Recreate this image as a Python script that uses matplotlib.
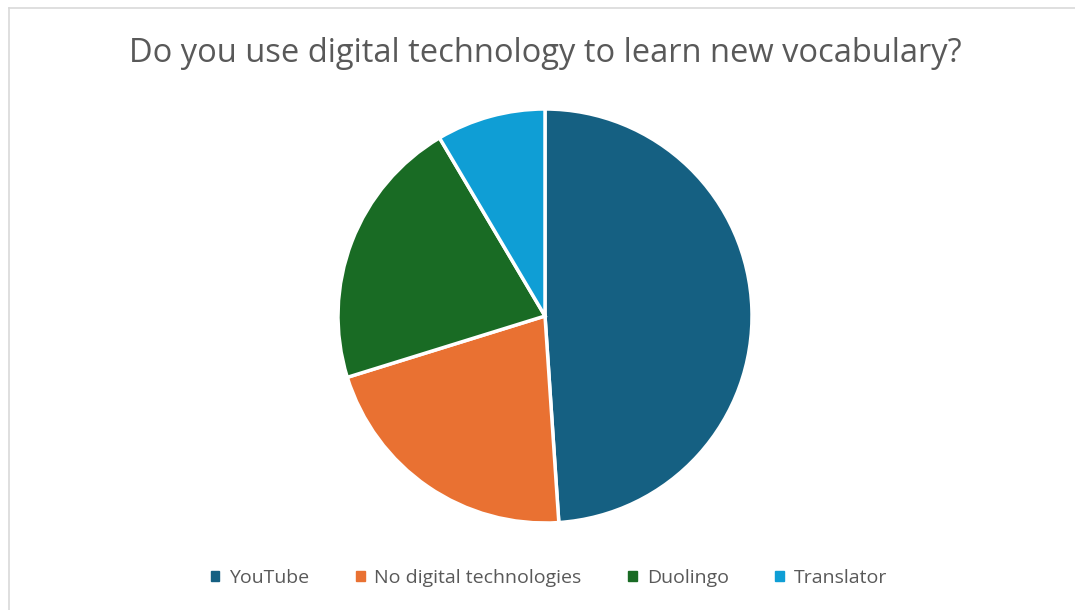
import matplotlib.pyplot as plt
from matplotlib.lines import Line2D

# survey answers (counts)
labels = ['YouTube', 'No digital technologies', 'Duolingo', 'Translator']
counts = [23, 10, 10, 4]
colors = ['#156082', '#E97132', '#196B24', '#0F9ED5']

plt.rcParams['font.family'] = ['Open Sans', 'DejaVu Sans']

fig = plt.figure(figsize=(10.75, 6.1), dpi=100)

# light grey chart frame: only top and left edges are inside the image
fx, fy = 9 / 1075, 1 - 8 / 610
fig.lines.append(Line2D([fx, 1], [fy, fy], transform=fig.transFigure, color='#D9D9D9', lw=1.2))
fig.lines.append(Line2D([fx, fx], [0, fy], transform=fig.transFigure, color='#D9D9D9', lw=1.2))

# pie: centre (545, 316), radius 207 px
r = 207
ax = fig.add_axes([(545 - r) / 1075, (610 - 316 - r) / 610, 2 * r / 1075, 2 * r / 610])
ax.pie(counts, colors=colors, startangle=90, counterclock=False,
       wedgeprops=dict(edgecolor='white', linewidth=2.5))
ax.set_xlim(-1, 1)
ax.set_ylim(-1, 1)
ax.set_aspect('auto')

fig.text(545 / 1075, 1 - 53 / 610, 'Do you use digital technology to learn new vocabulary?',
         ha='center', va='center', fontsize=23.5, color='#595959')

handles = [plt.Rectangle((0, 0), 1, 1, color=c) for c in colors]
fig.legend(handles, labels, loc='center', bbox_to_anchor=(549 / 1075, 1 - 578 / 610),
           ncol=4, frameon=False, fontsize=14, labelcolor='#595959',
           handlelength=0.45, handleheight=0.45, handletextpad=0.5, columnspacing=2.4)

fig.savefig('out.png', dpi=100)
